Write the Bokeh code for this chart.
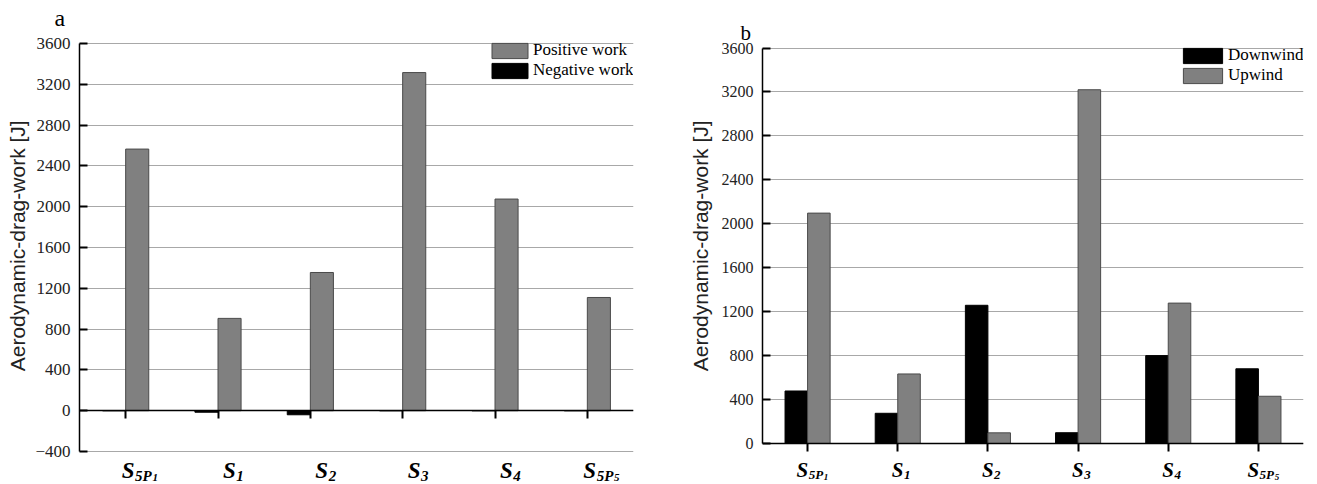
from bokeh.plotting import figure
from bokeh.layouts import row
from bokeh.models import (ColumnDataSource, Range1d, FixedTicker, Legend, LegendItem,
                          Label, LinearAxis, CustomJSTickFormatter)
from bokeh.transform import dodge
from bokeh.core.properties import value
from bokeh.embed import file_html
from bokeh.resources import INLINE

# ---------------- data ----------------
categories = ["S5P1", "S1", "S2", "S3", "S4", "S5P5"]
cat_main = ["S", "S", "S", "S", "S", "S"]
cat_sub = ["5P", "1", "2", "3", "4", "5P"]
cat_subsub = ["1", "", "", "", "", "5"]

positive_work = [2565, 905, 1355, 3315, 2075, 1110]
negative_work = [0, -15, -40, 0, 0, 0]

downwind = [478, 275, 1258, 98, 800, 680]
upwind = [2097, 633, 97, 3220, 1278, 430]

yticks_a = [-400, 0, 400, 800, 1200, 1600, 2000, 2400, 2800, 3200, 3600]
yticks_b = [0, 400, 800, 1200, 1600, 2000, 2400, 2800, 3200, 3600]
ylabel = "\u00a0\u00a0\u00a0\u00a0Aerodynamic-drag-work [J]"
panel_a, panel_b = "a", "b"

GRAY = "#808080"
GRAY_EDGE = "#4a4a4a"
GRID = "#a8a8a8"
SERIF = "Liberation Serif"
SANS = "Liberation Sans"
H = 484


def make_fig(width, yticks, plot_left, plot_right, plot_top, plot_bottom, tick_size):
    top_border = 30
    n = len(categories)
    ylo, yhi = yticks[0], yticks[-1]
    per_px = (yhi - ylo) / (plot_bottom - plot_top)
    y_end = yhi + (plot_top - top_border) * per_px
    y_start = ylo - (H - plot_bottom) * per_px
    p = figure(width=width, height=H,
               x_range=Range1d(-0.5, n - 0.5),
               y_range=Range1d(y_start, y_end),
               x_axis_location=None, y_axis_location="left",
               output_backend="svg", toolbar_location=None, tools="",
               min_border_left=plot_left, min_border_right=width - plot_right,
               min_border_top=top_border, min_border_bottom=0)
    p.frame_align = False
    p.outline_line_color = None
    p.background_fill_color = "white"
    p.border_fill_color = "white"
    for g in p.xgrid:
        g.visible = False
    p.ygrid.ticker = FixedTicker(ticks=yticks)
    p.ygrid.grid_line_color = GRID
    p.ygrid.grid_line_width = 1

    ya = p.yaxis[0]
    ya.ticker = FixedTicker(ticks=yticks)
    ya.bounds = (ylo, yhi)
    ya.axis_line_color = "black"
    ya.axis_line_width = 1.5
    ya.major_tick_in = 8
    ya.major_tick_out = 0
    ya.major_tick_line_width = 2
    ya.major_tick_line_color = "black"
    ya.minor_tick_line_color = None
    ya.major_label_text_font = SERIF
    ya.major_label_text_font_size = tick_size
    ya.major_label_text_color = "#222222"
    ya.major_label_standoff = 9
    ya.major_label_overrides = {t: ("\u2212" + str(-t)) for t in yticks if t < 0}
    ya.axis_label = ylabel
    ya.axis_label_text_font = SANS
    ya.axis_label_text_font_size = "21px"
    ya.axis_label_text_font_style = "normal"
    ya.axis_label_text_color = "#222222"

    xa = LinearAxis(ticker=FixedTicker(ticks=list(range(n))), fixed_location=0,
                    formatter=CustomJSTickFormatter(code="return ''"))
    xa.axis_line_color = "black"
    xa.axis_line_width = 1.5
    xa.major_tick_in = 8
    xa.major_tick_out = 0
    xa.major_tick_line_width = 2
    xa.major_tick_line_color = "black"
    xa.minor_tick_line_color = None
    xa.major_label_text_font_size = "0px"
    xa.major_label_standoff = 0
    p.add_layout(xa, "above")
    return p, per_px


def add_cat_labels(p, base_px, ylo, plot_bottom, per_px, s_offsets,
                   size_main, size_sub, size_subsub):
    n = len(categories)

    def y_at(px):
        return ylo - (px - plot_bottom) * per_px

    s_w = 0.58 * size_main
    src = ColumnDataSource(dict(
        x=list(range(n)),
        y0=[y_at(base_px)] * n,
        y1=[y_at(base_px + 5)] * n,
        y2=[y_at(base_px + 7)] * n,
        main=cat_main, sub=cat_sub, subsub=cat_subsub,
        off0=s_offsets,
        off1=[o + s_w for o in s_offsets],
        off2=[o + s_w + 0.58 * size_sub * len(s) for o, s in zip(s_offsets, cat_sub)],
    ))
    common = dict(x="x", source=src, text_font=value(SERIF),
                  text_font_style="bold italic", text_color="black",
                  text_align="left", text_baseline="alphabetic")
    p.text(y="y0", text="main", x_offset="off0", text_font_size=f"{size_main}px", **common)
    p.text(y="y1", text="sub", x_offset="off1", text_font_size=f"{size_sub}px", **common)
    p.text(y="y2", text="subsub", x_offset="off2", text_font_size=f"{size_subsub}px", **common)


def style_legend(items, glyph_w, loc):
    return Legend(items=items, location=loc, orientation="vertical",
                  glyph_width=glyph_w, glyph_height=19, label_height=19,
                  label_standoff=1, spacing=0, padding=0, margin=0,
                  border_line_color=None, background_fill_alpha=0,
                  label_text_font=SERIF, label_text_font_size="17px",
                  label_text_color="black", label_text_baseline="middle")


# ---------------- panel a ----------------
pa, per_a = make_fig(658, yticks_a, 79, 633, 43, 451, "17px")
pa.yaxis[0].axis_label_standoff = 3
src_a = ColumnDataSource(dict(x=list(range(len(categories))), pos=positive_work, neg=negative_work))
r_neg = pa.vbar(x=dodge("x", -0.125, range=pa.x_range), top="neg", bottom=0, width=0.25,
                source=src_a, fill_color="black", line_color="black", line_width=1)
r_pos = pa.vbar(x=dodge("x", 0.125, range=pa.x_range), top="pos", bottom=0, width=0.25,
                source=src_a, fill_color=GRAY, line_color=GRAY_EDGE, line_width=1)
pa.add_layout(style_legend([LegendItem(label="Positive work", renderers=[r_pos]),
                            LegendItem(label="Negative work", renderers=[r_neg])],
                           45, (408, 404)))
offs_a = [-4 if len(s) > 1 else 5 for s in cat_sub]
add_cat_labels(pa, 470, yticks_a[0], 451, per_a, offs_a, 23, 15, 11)
pa.title.text = panel_a
pa.title.align = "left"
pa.title.offset = -25
pa.title.standoff = 0
pa.title.vertical_align = "bottom"
pa.title.text_font = SERIF
pa.title.text_font_size = "24px"
pa.title.text_font_style = "normal"
pa.title.text_color = "black"

# ---------------- panel b ----------------
pb, per_b = make_fig(659, yticks_b, 104, 645, 47.5, 443, "16px")
pb.yaxis[0].axis_label_standoff = 7
src_b = ColumnDataSource(dict(x=list(range(len(categories))), down=downwind, up=upwind))
r_down = pb.vbar(x=dodge("x", -0.125, range=pb.x_range), top="down", bottom=0, width=0.25,
                 source=src_b, fill_color="black", line_color="black", line_width=1)
r_up = pb.vbar(x=dodge("x", 0.125, range=pb.x_range), top="up", bottom=0, width=0.25,
               source=src_b, fill_color=GRAY, line_color=GRAY_EDGE, line_width=1)
pb.add_layout(style_legend([LegendItem(label="Downwind", renderers=[r_down]),
                            LegendItem(label="Upwind", renderers=[r_up])],
                           49, (416, 399)))
offs_b = [-11 if len(s) > 1 else -6 for s in cat_sub]
add_cat_labels(pb, 469, yticks_b[0], 443, per_b, offs_b, 21, 13, 9)
pb.add_layout(Label(x=-0.687, y=yticks_b[-1] + 15.5 * per_b, text=panel_b, text_align="center",
                    text_baseline="alphabetic", text_font=SERIF,
                    text_font_size="21px", text_color="black"), "above")

layout = row(pa, pb)
open("out.html", "w").write(file_html(layout, INLINE))
